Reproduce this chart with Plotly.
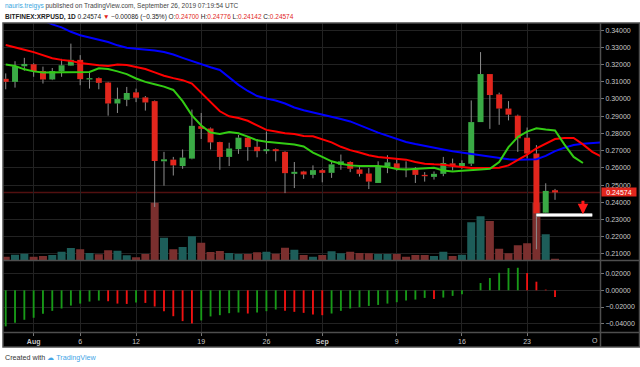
import plotly.graph_objects as go
import pandas as pd

W, H = 640, 367

# ---------------- data (BITFINEX:XRPUSD, 1D) ----------------
start_date = "2019-07-29"
opens = [0.31171, 0.30994, 0.31898, 0.32016, 0.31623, 0.31132, 0.31603, 0.31937, 0.32271, 0.31132,
         0.31210, 0.30955, 0.29737, 0.29953, 0.30385, 0.30091, 0.29875, 0.26378, 0.26476, 0.26103,
         0.26536, 0.28421, 0.28284, 0.27498, 0.26634, 0.27085, 0.27753, 0.27223, 0.26968, 0.27085,
         0.26928, 0.25651, 0.25789, 0.25592, 0.25867, 0.25710, 0.26182, 0.26339, 0.25907, 0.25671,
         0.25121, 0.26084, 0.26260, 0.25946, 0.25907, 0.25592, 0.25475, 0.25651, 0.26260, 0.26103,
         0.26241, 0.28657, 0.31446, 0.30268, 0.29443, 0.29030, 0.27753, 0.26830, 0.23393, 0.24700]
highs = [0.31485, 0.32193, 0.32389, 0.32075, 0.31878, 0.31800, 0.32330, 0.33214, 0.32546, 0.31603,
         0.31250, 0.30994, 0.30660, 0.30700, 0.30602, 0.30169, 0.29914, 0.26928, 0.26634, 0.27066,
         0.29384, 0.29187, 0.28343, 0.27517, 0.27459, 0.27910, 0.27793, 0.27675, 0.28107, 0.27125,
         0.26968, 0.26339, 0.25828, 0.26143, 0.25926, 0.26339, 0.26771, 0.26378, 0.26044, 0.25985,
         0.26378, 0.26732, 0.26575, 0.26378, 0.26044, 0.25750, 0.25789, 0.26634, 0.26536, 0.26437,
         0.29914, 0.32723, 0.31446, 0.30366, 0.29875, 0.29089, 0.28343, 0.27321, 0.25102, 0.24776]
lows = [0.30562, 0.30660, 0.31643, 0.31289, 0.30896, 0.31093, 0.31289, 0.31918, 0.30798, 0.30602,
        0.30562, 0.29030, 0.29187, 0.29580, 0.29816, 0.29325, 0.23727, 0.24964, 0.25553, 0.25946,
        0.26496, 0.27675, 0.27066, 0.25887, 0.26103, 0.26811, 0.26417, 0.26614, 0.26811, 0.26378,
        0.24532, 0.24826, 0.25357, 0.25396, 0.25160, 0.25416, 0.25887, 0.25750, 0.25494, 0.24768,
        0.25121, 0.25691, 0.25828, 0.25455, 0.25121, 0.25200, 0.25318, 0.25514, 0.25848, 0.25946,
        0.26103, 0.28657, 0.28264, 0.28500, 0.28755, 0.26928, 0.26536, 0.21271, 0.23353, 0.24142]
closes = [0.30994, 0.31898, 0.32036, 0.31623, 0.31132, 0.31623, 0.31957, 0.32271, 0.31152, 0.31210,
          0.30935, 0.29737, 0.29993, 0.30346, 0.30071, 0.29796, 0.26398, 0.26496, 0.26143, 0.26594,
          0.28441, 0.28264, 0.27478, 0.26634, 0.27125, 0.27753, 0.27203, 0.26968, 0.27085, 0.26968,
          0.25691, 0.25769, 0.25612, 0.25867, 0.25710, 0.26202, 0.26378, 0.25946, 0.25651, 0.25200,
          0.26103, 0.26319, 0.25927, 0.25887, 0.25592, 0.25514, 0.25651, 0.26280, 0.26103, 0.26280,
          0.28657, 0.31446, 0.30228, 0.29443, 0.29089, 0.27714, 0.26830, 0.23353, 0.24660, 0.24574]
volumes = [13, 21, 25, 13, 16, 20, 33, 48, 43, 28, 23, 39, 37, 19, 11, 24, 229, 89, 43, 52,
           95, 69, 32, 36, 28, 24, 24, 31, 33, 25, 49, 41, 20, 13, 20, 35, 27, 33, 28, 27,
           24, 24, 24, 13, 20, 20, 16, 33, 16, 21, 151, 175, 156, 45, 27, 59, 67, 229, 103, 5]
# Awesome Oscillator
ao_values = [-0.0432, -0.0389, -0.0353, -0.0329, -0.0282, -0.0246, -0.0218, -0.0183, -0.0159, -0.0135,
             -0.0123, -0.0131, -0.0159, -0.0163, -0.0147, -0.0151, -0.0194, -0.0250, -0.0310, -0.0369,
             -0.0397, -0.0361, -0.0313, -0.0298, -0.0274, -0.0266, -0.0278, -0.0266, -0.0250, -0.0230,
             -0.0246, -0.0258, -0.0270, -0.0290, -0.0298, -0.0278, -0.0246, -0.0218, -0.0202, -0.0187,
             -0.0175, -0.0159, -0.0143, -0.0123, -0.0111, -0.0091, -0.0103, -0.0087, -0.0067, -0.0048,
             0.0002, 0.0087, 0.0147, 0.0210, 0.0266, 0.0270, 0.0206, 0.0103, 0.0008, -0.0079]
# Alligator lines (shifted forward beyond the last candle)
jaw_values = [0.35493, 0.35257, 0.35021, 0.34785, 0.34550, 0.34334, 0.34157, 0.33901, 0.33705, 0.33568,
              0.33450, 0.33312, 0.33116, 0.32978, 0.32919, 0.32880, 0.32821, 0.32723, 0.32585, 0.32389,
              0.32193, 0.31996, 0.31839, 0.31682, 0.31250, 0.30818, 0.30464, 0.30169, 0.30032, 0.29914,
              0.29737, 0.29502, 0.29344, 0.29227, 0.29089, 0.28951, 0.28834, 0.28696, 0.28500, 0.28264,
              0.28048, 0.27852, 0.27655, 0.27498, 0.27380, 0.27262, 0.27164, 0.27066, 0.26968, 0.26889,
              0.26811, 0.26732, 0.26634, 0.26536, 0.26496, 0.26476, 0.26476, 0.26496, 0.26693, 0.26968,
              0.27164, 0.27321, 0.27400, 0.27459, 0.27478, 0.27498, 0.27517, 0.27517]
teeth_values = [0.33135, 0.33018, 0.32860, 0.32723, 0.32546, 0.32369, 0.32271, 0.32212, 0.32094, 0.32016,
                0.31957, 0.31918, 0.31996, 0.31976, 0.31839, 0.31741, 0.31544, 0.31348, 0.31210, 0.31093,
                0.30896, 0.30366, 0.29777, 0.29285, 0.28991, 0.28893, 0.28735, 0.28461, 0.28205, 0.28107,
                0.28009, 0.27969, 0.27852, 0.27832, 0.27675, 0.27478, 0.27223, 0.27027, 0.26889, 0.26732,
                0.26634, 0.26575, 0.26536, 0.26476, 0.26339, 0.26241, 0.26202, 0.26182, 0.26103, 0.26025,
                0.25985, 0.25985, 0.25985, 0.26005, 0.26143, 0.26437, 0.26771, 0.27125, 0.27419, 0.27675,
                0.27734, 0.27734, 0.27361, 0.26928, 0.26654]
lips_values = [0.31996, 0.31918, 0.31721, 0.31603, 0.31544, 0.31544, 0.31584, 0.31584, 0.31544, 0.31564,
               0.31780, 0.31741, 0.31603, 0.31446, 0.31191, 0.30994, 0.30857, 0.30719, 0.30523, 0.29875,
               0.29050, 0.28461, 0.28048, 0.27969, 0.28087, 0.28009, 0.27812, 0.27596, 0.27518, 0.27459,
               0.27400, 0.27360, 0.27243, 0.26889, 0.26634, 0.26378, 0.26241, 0.26143, 0.26103, 0.26123,
               0.26103, 0.26044, 0.25927, 0.25907, 0.25946, 0.26005, 0.26005, 0.25848, 0.25789, 0.25828,
               0.25887, 0.25907, 0.25946, 0.26339, 0.27203, 0.27793, 0.28107, 0.28303, 0.28225, 0.28166,
               0.27360, 0.26634, 0.26280]
# date axis labels
tick_dates = ["2019-08-01", "2019-08-06", "2019-08-12", "2019-08-19", "2019-08-26",
              "2019-09-01", "2019-09-09", "2019-09-16", "2019-09-23"]
tick_labels = ["<b>Aug</b>", "6", "12", "19", "26", "<b>Sep</b>", "9", "16", "23"]
price_ticks = [0.21, 0.22, 0.23, 0.24, 0.25, 0.26, 0.27, 0.28, 0.29, 0.30, 0.31, 0.32, 0.33, 0.34]
ao_ticks = [-0.04, -0.02, 0.0, 0.02]
# user drawing: support line and arrow
support_level = 0.2326
support_start, support_end = "2019-09-24", "2019-09-30"
arrow_date = "2019-09-29"

# ---------------- helpers ----------------
DAY = 86400000
dates = pd.date_range(start_date, periods=len(closes), freq="D")
jaw_dates = pd.date_range(start_date, periods=len(jaw_values), freq="D")
teeth_dates = pd.date_range(start_date, periods=len(teeth_values), freq="D")
lips_dates = pd.date_range(start_date, periods=len(lips_values), freq="D")

def px_x(x):
    return x / W

def px_y(y):
    return 1 - y / H

UP, DOWN = "#3aaa45", "#e2261d"
VUP, VDOWN = "#1d5d59", "#7a2f2e"
up = [c >= o for o, c in zip(opens, closes)]

x_left = (pd.Timestamp(start_date) - pd.Timedelta(hours=7)).isoformat()
x_right = (pd.Timestamp(start_date) + pd.Timedelta(days=63.83)).isoformat()

fig = go.Figure()

# volume (base axis, drawn beneath)
fig.add_trace(go.Bar(x=dates, y=volumes, width=0.86 * DAY, xaxis="x", yaxis="y",
                     marker=dict(color=[VUP if u else VDOWN for u in up], line=dict(width=0)),
                     hoverinfo="skip"))

# candle bodies
fig.add_trace(go.Bar(x=dates,
                     base=[min(o, c) for o, c in zip(opens, closes)],
                     y=[max(abs(c - o), 0.0003) for o, c in zip(opens, closes)],
                     width=0.64 * DAY, xaxis="x", yaxis="y2",
                     marker=dict(color=[UP if u else DOWN for u in up], line=dict(width=0)),
                     hoverinfo="skip"))

# wicks
wx, wy = [], []
for d, o, h, l, c in zip(dates, opens, highs, lows, closes):
    top, bot = max(o, c), min(o, c)
    wx += [d, d, None, d, d, None]
    wy += [h, top, None, bot, l, None]
fig.add_trace(go.Scatter(x=wx, y=wy, mode="lines", xaxis="x", yaxis="y2",
                         line=dict(color="#8e8e8e", width=1), hoverinfo="skip"))

# alligator
fig.add_trace(go.Scatter(x=jaw_dates, y=jaw_values, mode="lines", xaxis="x", yaxis="y2",
                         line=dict(color="#0000ff", width=2)))
fig.add_trace(go.Scatter(x=teeth_dates, y=teeth_values, mode="lines", xaxis="x", yaxis="y2",
                         line=dict(color="#ff0000", width=2)))
fig.add_trace(go.Scatter(x=lips_dates, y=lips_values, mode="lines", xaxis="x", yaxis="y2",
                         line=dict(color="#33cc14", width=2)))

# awesome oscillator
ao_colors = []
for i, v in enumerate(ao_values):
    ao_colors.append("#189a18" if i == 0 or v >= ao_values[i - 1] else "#f01212")
fig.add_trace(go.Bar(x=dates, y=ao_values, width=0.2 * DAY, xaxis="x2", yaxis="y3",
                     marker=dict(color=ao_colors, line=dict(width=0)), hoverinfo="skip"))

GRID = "#222222"
SEP = "#4e4e4e"
TXT = "#c8c8c8"
FONT = "Liberation Sans, Arial, sans-serif"
xdom = [px_x(3), px_x(600)]

fig.update_layout(
    width=W, height=H, margin=dict(l=0, r=0, t=0, b=0),
    paper_bgcolor="white", plot_bgcolor="black",
    showlegend=False, barmode="overlay",
    font=dict(family=FONT, size=7, color=TXT),
    xaxis=dict(domain=xdom, anchor="y", type="date", range=[x_left, x_right],
               tickvals=tick_dates, showticklabels=False, showgrid=True,
               gridcolor=GRID, gridwidth=1, zeroline=False, showline=False, ticks=""),
    yaxis=dict(domain=[px_y(260), px_y(23)], range=[0, 948], visible=False,
               showgrid=False, zeroline=False),
    yaxis2=dict(overlaying="y", anchor="x", side="right",
                range=[0.20647, 0.344125], tickvals=price_ticks, tickformat=".5f",
                showgrid=True, gridcolor=GRID, gridwidth=1, zeroline=False, showline=False,
                ticks="outside", ticklen=3, tickcolor="#777777",
                tickfont=dict(size=7, color=TXT, family=FONT)),
    xaxis2=dict(domain=xdom, anchor="y3", matches="x", type="date",
                tickvals=tick_dates, ticktext=tick_labels, showgrid=True,
                gridcolor=GRID, gridwidth=1, zeroline=False, showline=False,
                ticks="outside", ticklen=3, tickcolor="#777777",
                tickfont=dict(size=7, color=TXT, family=FONT)),
    yaxis3=dict(domain=[px_y(332), px_y(261)], anchor="x2", side="right",
                range=[-0.04994, 0.03509], tickvals=ao_ticks, tickformat=".5f",
                showgrid=True, gridcolor=GRID, gridwidth=1, zeroline=False, showline=False,
                ticks="outside", ticklen=3, tickcolor="#777777",
                tickfont=dict(size=7, color=TXT, family=FONT)),
)

shapes = [
    # black chart area
    dict(type="rect", xref="paper", yref="paper", x0=px_x(3), x1=1, y0=px_y(347), y1=px_y(23),
         fillcolor="black", line=dict(width=0), layer="below"),
    # last price line
    dict(type="line", xref="x", yref="y2", x0=x_left, x1=x_right, y0=closes[-1], y1=closes[-1],
         line=dict(color="#521010", width=1.5), layer="below"),
    # support line
    dict(type="line", xref="x", yref="y2", x0=support_start, x1=support_end,
         y0=support_level, y1=support_level, line=dict(color="#9a9a9a", width=4), layer="above"),
    dict(type="line", xref="x", yref="y2", x0=support_start, x1=support_end,
         y0=support_level, y1=support_level, line=dict(color="white", width=2), layer="above"),
    # separators / borders
    dict(type="line", xref="paper", yref="paper", x0=px_x(3), x1=1, y0=px_y(260.5), y1=px_y(260.5),
         line=dict(color=SEP, width=1.5), layer="above"),
    dict(type="line", xref="paper", yref="paper", x0=px_x(3), x1=1, y0=px_y(332.5), y1=px_y(332.5),
         line=dict(color=SEP, width=1.5), layer="above"),
    dict(type="line", xref="paper", yref="paper", x0=px_x(600.5), x1=px_x(600.5), y0=px_y(347), y1=px_y(23),
         line=dict(color=SEP, width=1.5), layer="above"),
    dict(type="rect", xref="paper", yref="paper", x0=px_x(3), x1=px_x(639.5), y0=px_y(347), y1=px_y(23),
         line=dict(color=SEP, width=1.5), layer="above"),
]
fig.update_layout(shapes=shapes)

last, prev = closes[-1], closes[-2]
chg = last - prev
pct = chg / prev * 100
def fmt_signed(v, nd):
    s = f"{abs(v):.{nd}f}"
    return ("\u2212" if v < 0 else "+") + s
RED = "#e2261d"
line1 = ("<span style='color:#3aa6e0'>nauris.treigys</span> published on TradingView.com, "
         "September 26, 2019 07:19:54 UTC")
line2 = (f"<b>BITFINEX:XRPUSD, 1D</b> {last:.5f} <span style='color:{RED}'>\u25BC</span> "
         f"{fmt_signed(chg, 5)} ({fmt_signed(pct, 2)}%) "
         f"O:<span style='color:{RED}'>{opens[-1]:.5f}</span> "
         f"H:<span style='color:{RED}'>{highs[-1]:.5f}</span> "
         f"L:<span style='color:{RED}'>{lows[-1]:.5f}</span> "
         f"C:<span style='color:{RED}'>{closes[-1]:.5f}</span>")

annotations = [
    dict(xref="paper", yref="paper", x=px_x(3), y=px_y(6.5), xanchor="left", yanchor="middle",
         text=line1, showarrow=False, font=dict(size=6.5, color="#444444", family=FONT)),
    dict(xref="paper", yref="paper", x=px_x(3), y=px_y(16.5), xanchor="left", yanchor="middle",
         text=line2, showarrow=False, font=dict(size=6.5, color="#222222", family=FONT)),
    dict(xref="paper", yref="paper", x=px_x(3), y=px_y(357), xanchor="left", yanchor="middle",
         text="Created with <span style='color:#45a5e6'>\u2601 TradingView</span>", showarrow=False,
         font=dict(size=7.2, color="#333333", family=FONT)),
    # current price tag
    dict(xref="paper", yref="y2", x=px_x(601), y=closes[-1], xanchor="left", yanchor="middle",
         text=f"{closes[-1]:.5f}", showarrow=False, bgcolor="#e2261d", width=34, height=8,
         font=dict(size=7, color="white", family=FONT), borderpad=0),
    # partially hidden 'Oct' label
    dict(xref="paper", yref="paper", x=px_x(600), y=px_y(340), xanchor="right", yanchor="middle",
         text="O", showarrow=False, font=dict(size=7, color=TXT, family=FONT)),
    # red down arrow
    dict(xref="x", yref="y2", x=arrow_date, y=support_level + 0.0004, ax=0, ay=-15,
         text="", showarrow=True, arrowhead=2, arrowsize=0.7, arrowwidth=3,
         arrowcolor="#ff1a1a", standoff=0),
]
fig.update_layout(annotations=annotations)

fig.write_html("out.html", config={"displayModeBar": False, "staticPlot": True},
               post_script="document.body.style.margin='0';document.body.style.overflow='hidden';")
